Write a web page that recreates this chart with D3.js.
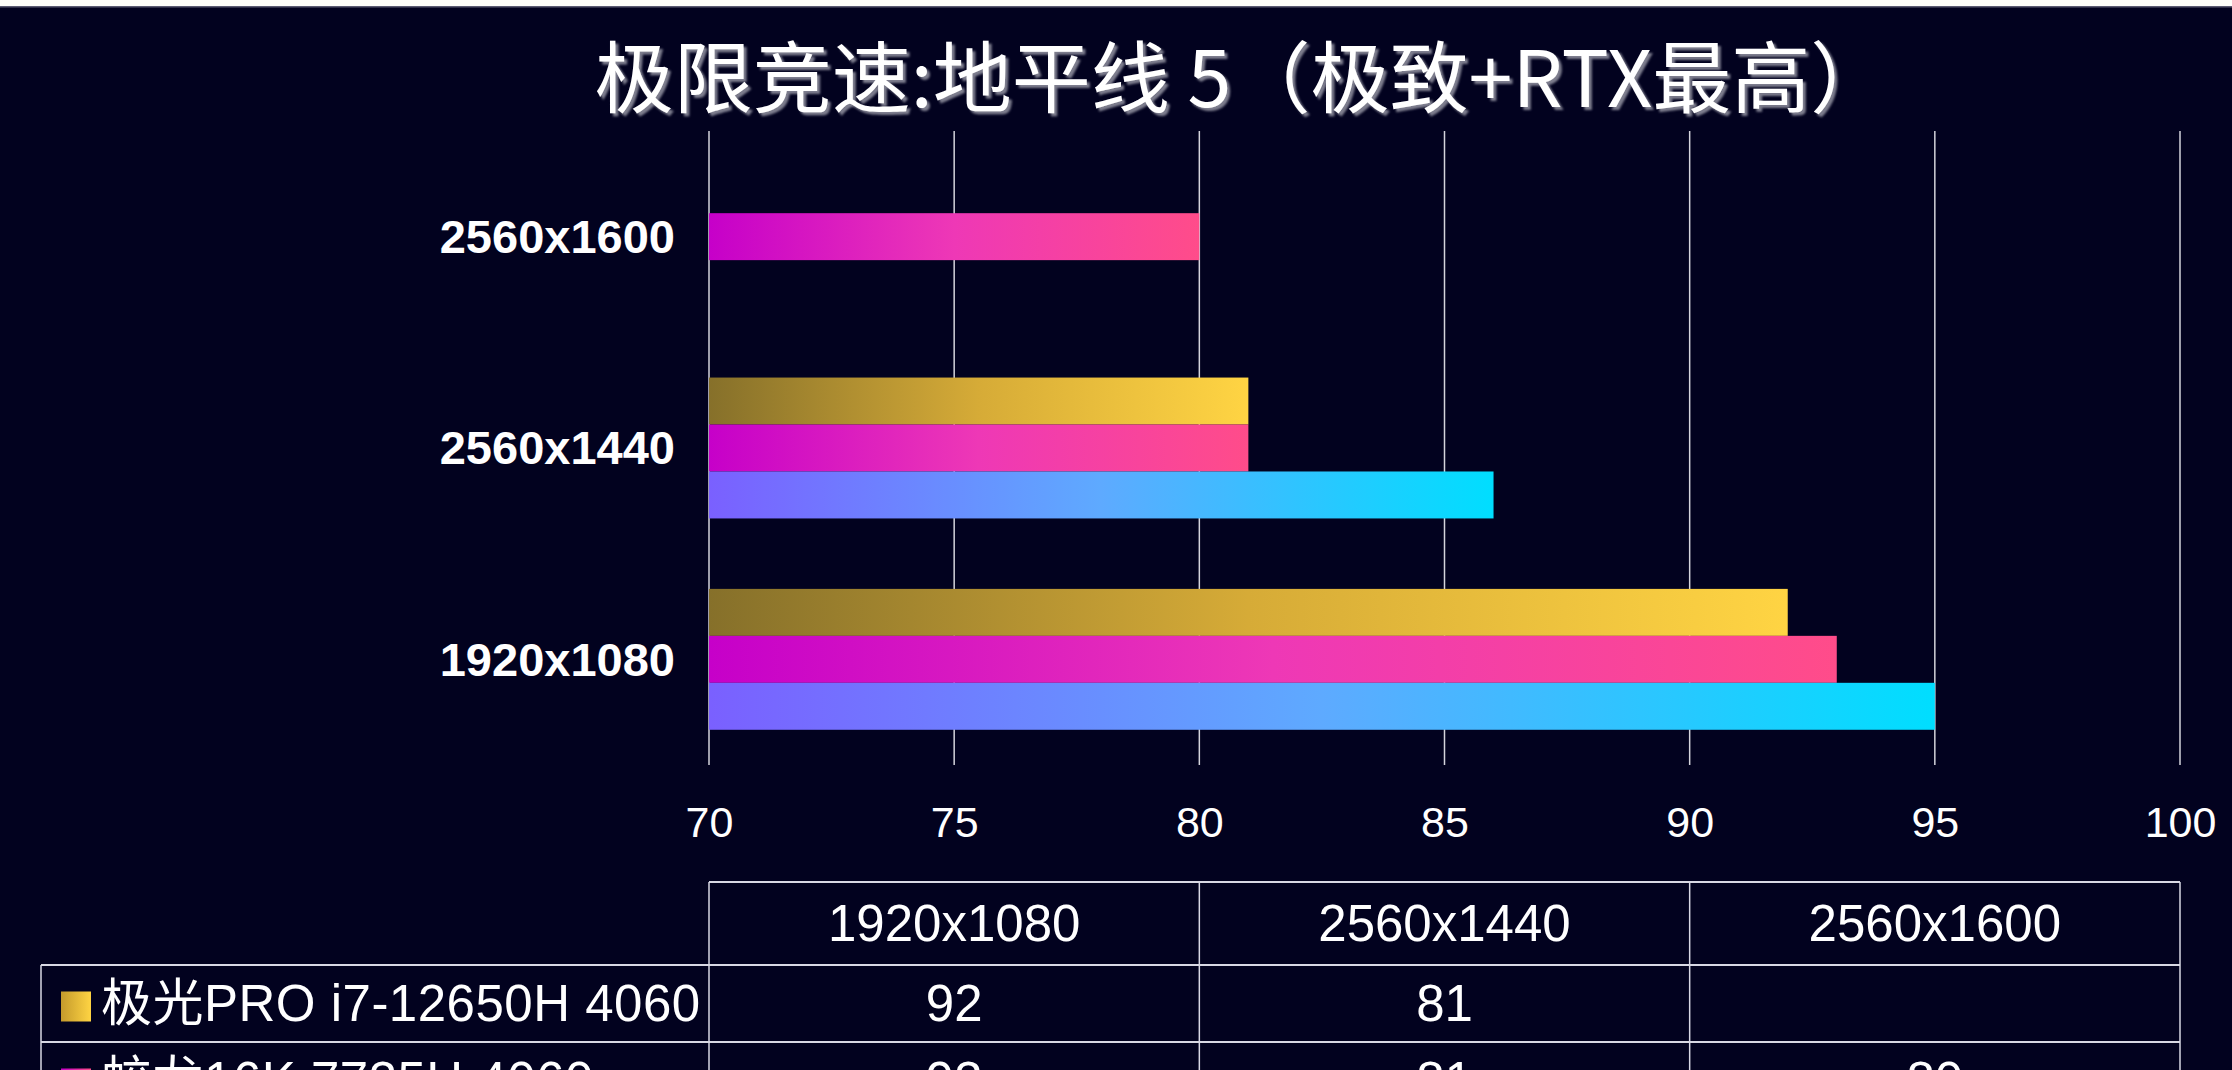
<!DOCTYPE html>
<html>
<head>
<meta charset="utf-8">
<script src="https://cdn.jsdelivr.net/npm/d3@7/dist/d3.min.js"></script>
<style>
  html, body { margin: 0; padding: 0; background: #02021f; overflow: hidden; }
  svg { display: block; }
</style>
</head>
<body>
<svg id="chart" width="2232" height="1070"></svg>
<script>
// ---------- DATA ----------
const title = "极限竞速:地平线 5（极致+RTX最高）";
const categories = ["1920x1080", "2560x1440", "2560x1600"];
const seriesNames = ["极光PRO i7-12650H 4060", "蛟龙16K 7735H 4060", "旷世16 Super i9-13900HX 4060"];
const seriesGold = [92, 81, null];
const seriesPink = [93, 81, 80];
const seriesCyan = [95, 86, null];
const xTicks = [70, 75, 80, 85, 90, 95, 100];

const seriesValues = [seriesGold, seriesPink, seriesCyan];
const gradStops = [
  ["#86702a", "#d6ab37", "#ffd443"],
  ["#c600c9", "#ee38b6", "#ff4c8a"],
  ["#7a60ff", "#5eaaff", "#00deff"]
];

// ---------- LAYOUT ----------
const W = 2232, H = 1070;
const svg = d3.select("#chart");
const plotTop = 131, plotBottom = 765, plotLeft = 709, plotRight = 2180;

const x = d3.scaleLinear().domain([70, 100]).range([plotLeft, plotRight]);
const y = d3.scaleBand().domain(categories.slice().reverse())
  .range([plotTop, plotBottom]).paddingInner(1 / 3).paddingOuter(1 / 6);
const ySub = d3.scaleBand().domain([0, 1, 2]).range([0, y.bandwidth()]);

// top white strip
svg.append("rect").attr("x", 0).attr("y", 0).attr("width", W).attr("height", 6).attr("fill", "#fdfdf8");
svg.append("rect").attr("x", 0).attr("y", 6).attr("width", W).attr("height", 1.5).attr("fill", "#5a5a70");

const defs = svg.append("defs");
gradStops.forEach((s, i) => {
  const g = defs.append("linearGradient").attr("id", "grad" + i)
    .attr("x1", 0).attr("x2", 1).attr("y1", 0).attr("y2", 0);
  g.append("stop").attr("offset", "0%").attr("stop-color", s[0]);
  g.append("stop").attr("offset", "50%").attr("stop-color", s[1]);
  g.append("stop").attr("offset", "100%").attr("stop-color", s[2]);
});
const swatchDefs = [["swGold", "#c49a2c", "#ffd443"], ["swPink", "#c600c9", "#ff4c8a"], ["swCyan", "#7a60ff", "#00deff"]];
swatchDefs.forEach(s => {
  const g = defs.append("linearGradient").attr("id", s[0]).attr("x1", 0).attr("x2", 1);
  g.append("stop").attr("offset", "0%").attr("stop-color", s[1]);
  g.append("stop").attr("offset", "100%").attr("stop-color", s[2]);
});
const swatchFills = swatchDefs.map(s => `url(#${s[0]})`);

const shadow = defs.append("filter").attr("id", "shadow")
  .attr("x", "-5%").attr("y", "-20%").attr("width", "110%").attr("height", "140%");
shadow.append("feDropShadow").attr("dx", 3).attr("dy", 3).attr("stdDeviation", 1.2)
  .attr("flood-color", "#8a8a9a").attr("flood-opacity", 0.9);

// title: measured, then stretched horizontally to the reference width
const titleCx = 1242, titleW = 1295;
const tg0 = svg.append("g").attr("filter", "url(#shadow)");
const tt = tg0.append("text")
  .attr("x", 0).attr("y", 0)
  .attr("text-anchor", "middle").attr("dominant-baseline", "central")
  .attr("font-family", "'Noto Sans CJK SC', sans-serif")
  .attr("font-size", 78).attr("fill", "#ffffff")
  .text(title);
const natW = tt.node().getComputedTextLength();
tt.attr("transform", `translate(${titleCx},73) scale(${titleW / natW},1)`);

// gridlines
svg.append("g").selectAll("line").data(xTicks).join("line")
  .attr("x1", d => x(d)).attr("x2", d => x(d))
  .attr("y1", plotTop).attr("y2", plotBottom)
  .attr("stroke", "#d4d4dc").attr("stroke-width", 1.5);

// x axis labels via d3 axis
const xAxis = d3.axisBottom(x).tickValues(xTicks).tickSize(0).tickPadding(0);
const gx = svg.append("g").attr("transform", `translate(0,${plotBottom})`).call(xAxis);
gx.select(".domain").remove();
gx.selectAll("text")
  .attr("y", 57).attr("dy", "0.35em")
  .attr("font-family", "'Liberation Sans', Arial, sans-serif")
  .attr("font-size", 43).attr("fill", "#ffffff");

// y axis labels
const yAxis = d3.axisLeft(y).tickSize(0).tickPadding(0);
const gy = svg.append("g").attr("transform", `translate(${plotLeft - 34},0)`).call(yAxis);
gy.select(".domain").remove();
gy.selectAll("text")
  .attr("dy", "0.35em")
  .attr("font-family", "'Liberation Sans', Arial, sans-serif")
  .attr("font-weight", "bold")
  .attr("font-size", 47).attr("fill", "#ffffff");

// bars
seriesValues.forEach((vals, si) => {
  const data = categories.map((c, ci) => ({ c, v: vals[ci] })).filter(d => d.v != null);
  svg.append("g").selectAll("rect").data(data).join("rect")
    .attr("x", x(70))
    .attr("y", d => y(d.c) + ySub(si))
    .attr("width", d => x(d.v) - x(70))
    .attr("height", ySub.bandwidth())
    .attr("fill", `url(#grad${si})`);
});

// data table
const tableTop = 882, headH = 83, rowH = 77, tableLeft = 41;
const col = d3.scaleBand().domain(categories).range([plotLeft, plotRight]);
const lineColor = "#d8d8e4";
const tg = svg.append("g");
const nRows = seriesNames.length;
const tableBottom = tableTop + headH + rowH * nRows;

tg.append("line").attr("x1", plotLeft).attr("x2", plotRight)
  .attr("y1", tableTop).attr("y2", tableTop).attr("stroke", lineColor).attr("stroke-width", 2);
d3.range(nRows + 1).forEach(i => {
  const yy = tableTop + headH + rowH * i;
  tg.append("line").attr("x1", tableLeft).attr("x2", plotRight)
    .attr("y1", yy).attr("y2", yy).attr("stroke", lineColor).attr("stroke-width", 2);
});
tg.append("line").attr("x1", tableLeft).attr("x2", tableLeft)
  .attr("y1", tableTop + headH).attr("y2", tableBottom).attr("stroke", lineColor).attr("stroke-width", 1.5);
[plotLeft, ...categories.map(c => col(c) + col.bandwidth())].forEach(xx => {
  tg.append("line").attr("x1", xx).attr("x2", xx)
    .attr("y1", tableTop).attr("y2", tableBottom).attr("stroke", lineColor).attr("stroke-width", 1.5);
});

const tFont = "'Liberation Sans', Arial, 'Noto Sans CJK SC', sans-serif";
tg.selectAll("text.head").data(categories).join("text").attr("class", "head")
  .attr("x", d => col(d) + col.bandwidth() / 2).attr("y", tableTop + headH / 2)
  .attr("text-anchor", "middle").attr("dy", "0.35em")
  .attr("font-family", tFont).attr("font-size", 51).attr("fill", "#ffffff")
  .text(d => d);

seriesNames.forEach((name, si) => {
  const cy = tableTop + headH + rowH * si + rowH / 2;
  tg.append("rect").attr("x", 61).attr("y", cy - 12).attr("width", 30).attr("height", 30)
    .attr("fill", swatchFills[si]);
  tg.append("text").attr("x", 101).attr("y", cy).attr("dy", "0.35em")
    .attr("font-family", tFont).attr("font-size", 51).attr("fill", "#ffffff")
    .attr("letter-spacing", 0.5)
    .text(name);
  categories.forEach((c, ci) => {
    const v = seriesValues[si][ci];
    if (v == null) return;
    tg.append("text").attr("x", col(c) + col.bandwidth() / 2).attr("y", cy).attr("dy", "0.35em")
      .attr("text-anchor", "middle")
      .attr("font-family", tFont).attr("font-size", 51).attr("fill", "#ffffff")
      .text(v);
  });
});
</script>
</body>
</html>
